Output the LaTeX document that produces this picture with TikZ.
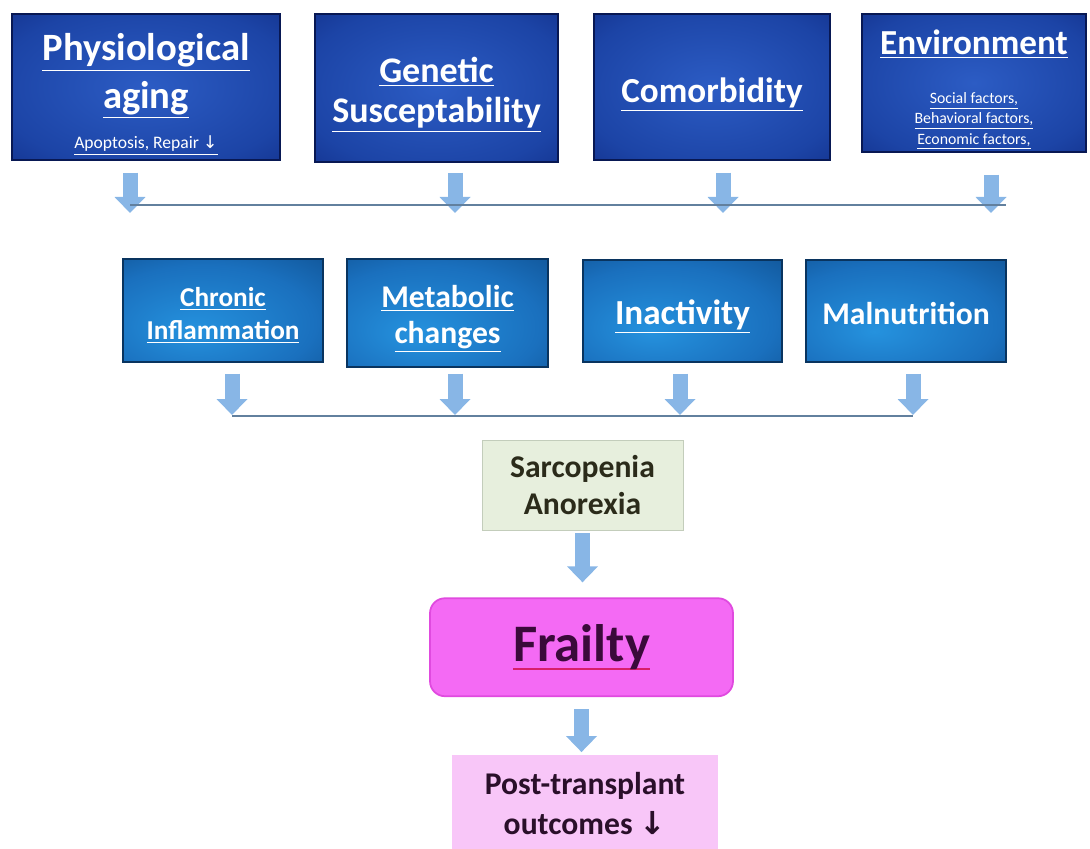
\documentclass[tikz,border=0pt]{standalone}
\usepackage{fontspec}
\setmainfont{Carlito}
\newfontfamily\symfont{DejaVu Sans}
\usepackage{xcolor}
\usepackage{tikz}
\usetikzlibrary{arrows.meta,positioning}
\definecolor{topin}{HTML}{2C5CC4}
\definecolor{topmid}{HTML}{1C44A6}
\definecolor{topout}{HTML}{0B2277}
\definecolor{midin}{HTML}{2592DE}
\definecolor{midmid}{HTML}{1A70BE}
\definecolor{midout}{HTML}{0D4A88}
\definecolor{arrblue}{HTML}{88B6E6}
\definecolor{busgray}{HTML}{62809E}
\definecolor{sarcfill}{HTML}{E7EFDD}
\definecolor{sarcline}{HTML}{C3CDBB}
\definecolor{sarctext}{HTML}{2B2B1A}
\definecolor{frailfill}{HTML}{F46AF4}
\definecolor{frailline}{HTML}{E04ADF}
\definecolor{frailtext}{HTML}{3A0A3A}
\definecolor{ulred}{HTML}{D81E6A}
\definecolor{postfill}{HTML}{F8C6F8}
\definecolor{posttext}{HTML}{2A0F2A}
\pgfdeclareradialshading{topglow}{\pgfpointorigin}{color(0bp)=(topin); color(28bp)=(topmid); color(50bp)=(topout); color(72bp)=(topout)}
\pgfdeclareradialshading{midglow}{\pgfpoint{-8bp}{-10bp}}{color(0bp)=(midin); color(28bp)=(midmid); color(50bp)=(midout); color(72bp)=(midout)}
\newcommand{\fsz}[2]{\fontsize{#1}{#2}\selectfont}
\newcommand{\lnk}[1]{\underline{#1}}
\newcommand{\redul}[1]{\setbox0=\hbox{#1}\rlap{\color{ulred}\rule[-5pt]{\wd0}{1.2pt}}\box0}

\begin{document}
\begin{tikzpicture}[font=\bfseries, text=white]
  \tikzstyle{topbox}=[draw=topout!70!black,line width=0.6pt,shading=topglow,inner sep=0pt]
  \tikzstyle{midbox}=[draw=midout!70!black,line width=0.6pt,shading=midglow,inner sep=0pt]
  \tikzstyle{boxtext}=[align=center,inner sep=0pt]
  \tikzstyle{fatarrow}=[-{Triangle[width=0.6cm,length=0.32cm]},line width=0.3cm,arrblue]
  \tikzstyle{bus}=[line width=1.7pt,busgray]
  \useasboundingbox (0,0) rectangle (21.8,-16.98);
  % causes
  \node[topbox,minimum width=5.36cm,minimum height=2.92cm] (phys) at (2.92,-1.74) {};
  \node[topbox,minimum width=4.86cm,minimum height=2.96cm] (gen) at (8.73,-1.76) {};
  \node[topbox,minimum width=4.72cm,minimum height=2.92cm] (comor) at (14.24,-1.74) {};
  \node[topbox,minimum width=4.48cm,minimum height=2.76cm] (env) at (19.48,-1.66) {};
  \node[boxtext,font=\bfseries\fsz{22}{27}] (physT) at ([yshift=-0.15cm]phys)
    {\lnk{Physiological}\\\lnk{aging}\\[-4pt]{\fsz{10}{12}\mdseries\lnk{Apoptosis, Repair {\symfont ↓}}}};
  \node[boxtext,font=\bfseries\fsz{20.5}{23}] (genT) at ([yshift=-0.13cm]gen)
    {\lnk{Genetic}\\\lnk{Susceptability}};
  \node[boxtext,font=\bfseries\fsz{20}{24}] (comorT) at ([yshift=-0.16cm]comor)
    {\lnk{Comorbidity}};
  \node[boxtext,font=\bfseries\fsz{20}{24}] (envT) at ([yshift=-0.14cm]env)
    {\lnk{Environment}\\[4pt]{\fsz{9}{11.5}\mdseries\begin{tabular}[t]{@{}c@{}}\lnk{Social factors,}\\\lnk{Behavioral factors,}\\\lnk{Economic factors,}\end{tabular}}};
  % mechanisms
  \node[midbox,minimum width=4cm,minimum height=2.06cm] (chron) at (4.46,-6.21) {};
  \node[midbox,minimum width=4.02cm,minimum height=2.16cm] (metab) at (8.95,-6.26) {};
  \node[midbox,minimum width=3.98cm,minimum height=2.04cm] (inact) at (13.65,-6.22) {};
  \node[midbox,minimum width=4cm,minimum height=2.04cm] (malnu) at (18.12,-6.22) {};
  \node[boxtext,font=\bfseries\fsz{15.5}{18.5}] (chronT) at ([yshift=-0.1cm]chron)
    {\lnk{Chronic}\\\lnk{Inflammation}};
  \node[boxtext,font=\bfseries\fsz{18}{20.5}] (metabT) at ([yshift=-0.12cm]metab)
    {\lnk{Metabolic}\\\lnk{changes}};
  \node[boxtext,font=\bfseries\fsz{20}{24}] (inactT) at ([yshift=-0.12cm]inact)
    {\lnk{Inactivity}};
  \node[boxtext,font=\bfseries\fsz{18}{22}] (malnuT) at ([yshift=-0.04cm]malnu)
    {Malnutrition};
  % outcome column
  \node[draw=sarcline,fill=sarcfill,text=sarctext,minimum width=4.02cm,minimum height=1.8cm,align=center,font=\bfseries\fsz{18}{21.5}] (sarc) at (11.65,-9.7)
    {Sarcopenia\\Anorexia};
  \node[draw=frailline,line width=1pt,fill=frailfill,text=frailtext,rounded corners=0.3cm,minimum width=6.06cm,minimum height=1.96cm,below=1.34cm of sarc,xshift=-0.02cm,font=\bfseries\fsz{30}{34}] (frail)
    {\redul{Frailty}};
  \node[fill=postfill,text=posttext,minimum width=5.32cm,minimum height=1.92cm,align=center,below=1.16cm of frail,xshift=0.07cm,font=\bfseries\fsz{18}{23}] (post)
    {Post-transplant\\outcomes {\symfont ↓}};
  % arrow tips on the two bars
  \coordinate (t1) at (2.60,-4.26);
  \coordinate (t2) at (9.10,-4.26);
  \coordinate (t3) at (14.46,-4.26);
  \coordinate (t4) at (19.82,-4.26);
  \coordinate (u1) at (4.64,-8.30);
  \coordinate (u2) at (9.10,-8.30);
  \coordinate (u3) at (13.60,-8.30);
  \coordinate (u4) at (18.26,-8.30);
  \foreach \b/\t/\s in {phys/t1/0.24,gen/t2/0.2,comor/t3/0.24,env/t4/0.44}
    \draw[fatarrow,shorten <=\s cm] (\b.south -| \t) -- (\t);
  \foreach \b/\t/\s in {chron/u1/0.22,metab/u2/0.12,inact/u3/0.22,malnu/u4/0.22}
    \draw[fatarrow,shorten <=\s cm] (\b.south -| \t) -- (\t);
  \draw[bus] ([yshift=0.16cm]t1) -- ([yshift=0.16cm,xshift=0.3cm]t4);
  \draw[bus] ([yshift=-0.02cm]u1) -- ([yshift=-0.02cm]u4);
  \draw[fatarrow,shorten <=0.06cm,shorten >=0.3cm] (sarc.south) -- (sarc.south |- frail.north);
  \draw[fatarrow,shorten <=0.24cm,shorten >=0.06cm] (frail.south) -- (frail.south |- post.north);
\end{tikzpicture}
\end{document}
